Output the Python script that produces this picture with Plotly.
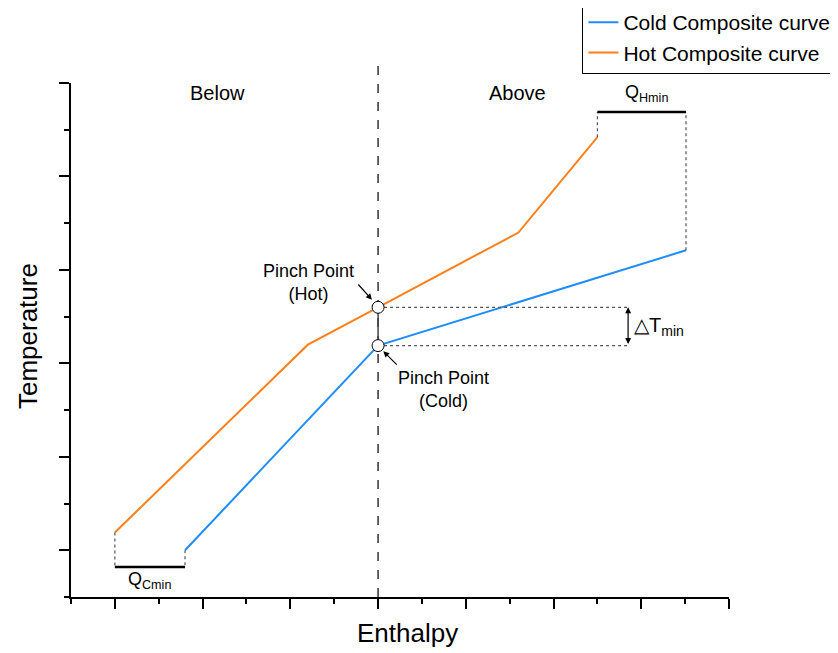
import plotly.graph_objects as go

# ---- data ----
cold_x = [0.80, 3.00, 6.51]
cold_y = [0.00, 2.19, 3.21]
hot_x = [0.00, 2.20, 3.00, 4.60, 5.50]
hot_y = [0.19, 2.20, 2.60, 3.40, 4.42]

pinch_x = 3.00
pinch_hot_y = 2.60
pinch_cold_y = 2.19
dt_end_x = 5.87          # end of dotted pinch guide lines
dt_arrow_x = 5.85        # x of the delta-T arrow
qh_level = 4.69          # y of the Q_Hmin bar
qc_level = -0.18         # y of the Q_Cmin bar

x_range = [-0.5, 7.0]
y_range = [-0.5, 5.0]

BLUE = "#1f8cff"
ORANGE = "#ff7f1a"
FONT = "Liberation Sans, Arial, sans-serif"

fig = go.Figure()

# composite curves
fig.add_trace(go.Scatter(x=cold_x, y=cold_y, mode="lines", name="Cold Composite curve",
                         line=dict(color=BLUE, width=2)))
fig.add_trace(go.Scatter(x=hot_x, y=hot_y, mode="lines", name="Hot Composite curve",
                         line=dict(color=ORANGE, width=2)))

dot = dict(color="#555555", width=1.2, dash="dot")
# dotted pinch guide lines
for yy in (pinch_hot_y, pinch_cold_y):
    fig.add_trace(go.Scatter(x=[pinch_x, dt_end_x], y=[yy, yy], mode="lines",
                             line=dot, showlegend=False, hoverinfo="skip"))
# Q_Hmin guides
fig.add_trace(go.Scatter(x=[hot_x[-1], hot_x[-1]], y=[hot_y[-1], qh_level], mode="lines",
                         line=dot, showlegend=False, hoverinfo="skip"))
fig.add_trace(go.Scatter(x=[cold_x[-1], cold_x[-1]], y=[cold_y[-1], qh_level], mode="lines",
                         line=dot, showlegend=False, hoverinfo="skip"))
fig.add_trace(go.Scatter(x=[hot_x[-1], cold_x[-1]], y=[qh_level, qh_level], mode="lines",
                         line=dict(color="black", width=2.5), showlegend=False, hoverinfo="skip"))
# Q_Cmin guides
fig.add_trace(go.Scatter(x=[hot_x[0], hot_x[0]], y=[hot_y[0], qc_level], mode="lines",
                         line=dot, showlegend=False, hoverinfo="skip"))
fig.add_trace(go.Scatter(x=[cold_x[0], cold_x[0]], y=[cold_y[0], qc_level], mode="lines",
                         line=dot, showlegend=False, hoverinfo="skip"))
fig.add_trace(go.Scatter(x=[hot_x[0], cold_x[0]], y=[qc_level, qc_level], mode="lines",
                         line=dict(color="black", width=2.5), showlegend=False, hoverinfo="skip"))

# vertical connector between pinch points
fig.add_trace(go.Scatter(x=[pinch_x, pinch_x], y=[pinch_cold_y, pinch_hot_y], mode="lines",
                         line=dict(color="#444444", width=1.5), showlegend=False, hoverinfo="skip"))
# pinch circles
fig.add_trace(go.Scatter(x=[pinch_x, pinch_x], y=[pinch_hot_y, pinch_cold_y], mode="markers",
                         marker=dict(size=12, color="white", line=dict(color="black", width=1)),
                         showlegend=False, hoverinfo="skip"))

# dashed pinch divider (extends above the plot area)
fig.add_shape(type="line", xref="x", yref="paper", x0=pinch_x, x1=pinch_x, y0=0, y1=1.035,
              line=dict(color="#333333", width=1.5, dash="dash"), layer="below")

ann = []
def txt(x, y, s, size=18, **kw):
    d = dict(x=x, y=y, xref="x", yref="y", text=s, showarrow=False,
             font=dict(family=FONT, size=size, color="black"))
    d.update(kw)
    ann.append(d)

txt(1.17, 4.89, "Below", size=20)
txt(4.59, 4.89, "Above", size=20)
txt(6.06, 4.89, "Q<sub>Hmin</sub>", size=18)
txt(0.40, -0.32, "Q<sub>Cmin</sub>", size=18)
txt(2.21, 2.87, "Pinch Point<br>(Hot)", size=18)
txt(3.75, 1.72, "Pinch Point<br>(Cold)", size=18)
txt(5.90, 2.39, "△T<sub>min</sub>", size=20, xanchor="left")

# arrows
ann.append(dict(x=2.93, y=2.68, ax=2.76, ay=2.86, xref="x", yref="y", axref="x", ayref="y",
                text="", showarrow=True, arrowhead=2, arrowsize=1, arrowwidth=1.2, arrowcolor="black"))
ann.append(dict(x=3.06, y=2.13, ax=3.23, ay=1.97, xref="x", yref="y", axref="x", ayref="y",
                text="", showarrow=True, arrowhead=2, arrowsize=1, arrowwidth=1.2, arrowcolor="black"))
ann.append(dict(x=dt_arrow_x, y=pinch_hot_y, ax=dt_arrow_x, ay=pinch_cold_y,
                xref="x", yref="y", axref="x", ayref="y", text="", showarrow=True,
                arrowhead=2, startarrowhead=2, arrowside="end+start", arrowsize=1,
                arrowwidth=1.2, arrowcolor="black"))

# axis titles as paper annotations
ann.append(dict(x=(408 - 71) / 658.5, y=-(633 - 597) / 514, xref="paper", yref="paper",
                xanchor="center", yanchor="middle",
                text="Enthalpy", showarrow=False, font=dict(family=FONT, size=26, color="black")))
ann.append(dict(x=-(71 - 28) / 658.5, y=(597 - 336) / 514, xref="paper", yref="paper",
                xanchor="center", yanchor="middle",
                text="Temperature", textangle=-90, showarrow=False,
                font=dict(family=FONT, size=26, color="black")))

axis_common = dict(showgrid=False, zeroline=False, showline=True, linecolor="black", linewidth=2,
                   ticks="outside", ticklen=10, tickwidth=2, tickcolor="black",
                   showticklabels=False, tick0=0, dtick=1,
                   minor=dict(dtick=0.5, ticks="outside", ticklen=5, tickwidth=2, tickcolor="black"))

# the page body adds an 8px offset, so margins are reduced by 8 px on left/top
fig.update_layout(
    width=838, height=653,
    margin=dict(l=63, r=116.5, t=75, b=64, autoexpand=False),
    paper_bgcolor="white", plot_bgcolor="white",
    font=dict(family=FONT, color="black"),
    xaxis=dict(range=x_range, **axis_common),
    yaxis=dict(range=y_range, **axis_common),
    annotations=ann,
    legend=dict(x=(837 - 71) / 658.5, xanchor="right", y=1 + (83 - 1) / 514, yanchor="top",
                bordercolor="black", borderwidth=1, bgcolor="white",
                font=dict(family=FONT, size=21, color="black"), tracegroupgap=0),
    showlegend=True,
)

fig.write_html("out.html")
